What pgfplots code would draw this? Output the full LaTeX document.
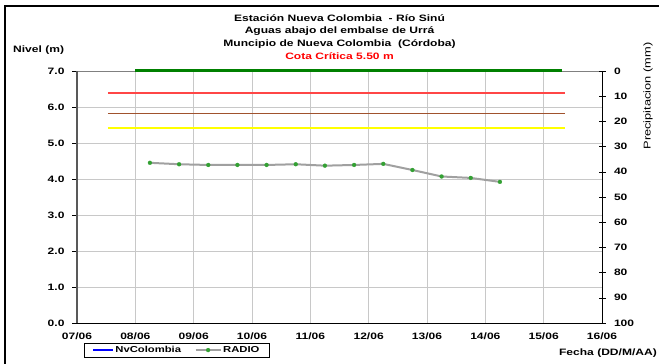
\documentclass[border=0pt]{standalone}
\usepackage{fontspec}
\setmainfont{Liberation Sans}[FakeStretch=1.3]
\newfontfamily\plainfont{Liberation Sans}
\usepackage{pgfplots}
\pgfplotsset{compat=1.18}
\definecolor{gridgray}{RGB}{200,200,200}
\definecolor{radiogray}{RGB}{160,160,160}
\definecolor{mkgreen}{RGB}{51,160,51}
\definecolor{dkgreen}{RGB}{0,128,0}
\definecolor{critred}{RGB}{255,70,70}
\definecolor{cotabrown}{RGB}{160,82,45}
\definecolor{cotayellow}{RGB}{255,255,0}
\newcommand{\tfont}{\fontsize{9.3}{10.5}\selectfont\bfseries}
\pgfplotsset{
  shortline/.style={legend image code/.code={\draw[##1] (0bp,0bp) -- (20bp,0bp);}},
  markline/.style={legend image code/.code={\draw[##1,mark repeat=2,mark phase=2] plot coordinates {(0bp,0bp) (12.5bp,0bp) (25bp,0bp)};}},
}
\begin{document}
\begin{tikzpicture}[x=1bp,y=1bp]
\useasboundingbox (0,0) rectangle (659,363);
\draw[line width=2.5bp] (5,-2) -- (5,357) -- (661,357);
% titles
\node[anchor=base,font=\tfont] at (339.5,342) {Estación Nueva Colombia \ - Río Sinú};
\node[anchor=base,font=\tfont] at (339.5,329.5) {Aguas abajo del embalse de Urrá};
\node[anchor=base,font=\tfont] at (339.5,317) {Muncipio de Nueva Colombia \ (Córdoba)};
\node[anchor=base,font=\tfont,text=red] at (339.5,303.5) {Cota Crítica 5.50 m};
\node[anchor=base west,font=\tfont,inner sep=0pt] at (13,311) {Nivel (m)};
\node[rotate=90,inner sep=0pt] at (648,267) {\scalebox{1.3}[1]{\plainfont\fontsize{9.9}{11}\selectfont Precipitacion (mm)}};
\node[anchor=base east,font=\tfont,inner sep=0pt] at (657,8) {Fecha (DD/M/AA)};
\begin{axis}[
  at={(77bp,40bp)}, anchor=south west,
  scale only axis, width=525bp, height=252bp,
  xmin=0, xmax=9, ymin=0, ymax=7,
  xtick={0,...,9},
  xticklabels={07/06,08/06,09/06,10/06,11/06,12/06,13/06,14/06,15/06,16/06},
  ytick={0,...,7},
  ytick pos=left,
  xtick style={draw=none},
  ytick style={black,line width=0.6bp},
  tick align=outside,
  major tick length=5bp,
  /pgf/number format/assume math mode=true,
  ticklabel style={font=\tfont},
  yticklabel style={/pgf/number format/fixed,/pgf/number format/fixed zerofill,/pgf/number format/precision=1,xshift=-4bp},
  xticklabel style={yshift=-1.5bp},
  grid=major,
  major grid style={color=gridgray,line width=0.8bp},
  axis line style={color=gray,line width=0.7bp},
  clip=false,
  legend style={at={(0.0133,-0.079)},anchor=north west,draw=black,line width=0.6bp,
    font=\fontsize{8.7}{9}\selectfont\bfseries, legend columns=2, inner ysep=1bp, inner xsep=8bp,
    /tikz/every even column/.append style={column sep=12bp},
    nodes={inner xsep=1.5bp}},
  legend cell align=left,
]
\draw[black!65,line width=2bp] (rel axis cs:0,0) -- (rel axis cs:0,1);
\draw[black,line width=0.7bp] (rel axis cs:0,0) -- (rel axis cs:1,0);
\addlegendimage{color=blue,line width=1.6bp,shortline}
\addlegendentry{NvColombia}
\addplot[color=radiogray,line width=2bp,mark=*,mark size=2bp,
  mark options={solid,draw=mkgreen,fill=mkgreen,line width=0.2bp},markline]
  coordinates {(1.25,4.45) (1.75,4.41) (2.25,4.39) (2.75,4.39) (3.25,4.39) (3.75,4.41) (4.25,4.37) (4.75,4.39) (5.25,4.42) (5.75,4.25) (6.25,4.07) (6.75,4.03) (7.25,3.92)};
\addlegendentry{RADIO}
\end{axis}
% reference levels
\begin{axis}[
  at={(77bp,40bp)}, anchor=south west,
  scale only axis, width=525bp, height=252bp,
  xmin=0, xmax=9, ymin=0, ymax=7,
  hide axis, clip=false,
]
\addplot[color=dkgreen,line width=3bp] coordinates {(1,7) (8.31,7)};
\addplot[color=critred,line width=2bp] coordinates {(0.53,6.38) (8.37,6.38)};
\addplot[color=cotabrown,line width=1.2bp] coordinates {(0.53,5.83) (8.37,5.83)};
\addplot[color=cotayellow,line width=1.5bp] coordinates {(0.53,5.42) (8.37,5.42)};
\end{axis}
\begin{axis}[
  at={(77bp,40bp)}, anchor=south west,
  scale only axis, width=525bp, height=252bp,
  xmin=0, xmax=9, ymin=0, ymax=100,
  y dir=reverse,
  axis x line=none,
  axis y line*=right,
  ytick={0,10,...,100},
  tick align=center,
  major tick length=7bp,
  ytick style={black,line width=0.6bp},
  axis line style={black,line width=0.7bp,-},
  /pgf/number format/assume math mode=true,
  ticklabel style={font=\tfont},
  yticklabel style={xshift=5bp},
]
\end{axis}
\end{tikzpicture}
\end{document}
